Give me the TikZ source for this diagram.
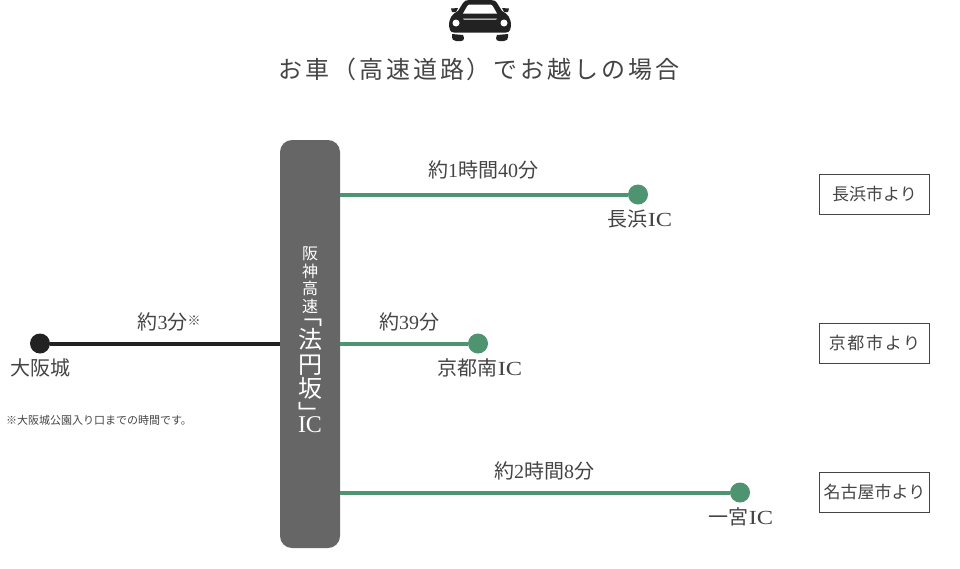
\documentclass[tikz,border=0pt]{standalone}
\usepackage{fontspec}
\setmainfont{Noto Sans CJK JP}
\newfontfamily\latfont{Liberation Serif}
\newfontfamily\icfont[FakeStretch=1.22]{Liberation Serif}
\newfontfamily\headfont[LetterSpace=12]{Noto Sans CJK JP}
\newfontfamily\boxwide[LetterSpace=10]{Noto Sans CJK JP}
\newcommand{\lat}[1]{{\latfont #1}}
\newcommand{\ic}{{\icfont IC}}
\usetikzlibrary{positioning}
\definecolor{inkgray}{HTML}{444444}
\definecolor{roadgreen}{HTML}{4F9470}
\definecolor{roadblack}{HTML}{222222}
\definecolor{capsule}{HTML}{666666}
\tikzset{
  stop/.style={circle,fill=roadgreen,minimum size=20pt,inner sep=0pt},
  lab/.style={text=inkgray,font=\fontsize{20pt}{20pt}\selectfont,inner sep=0pt},
  road/.style={line width=4pt,roadgreen},
  cityname/.style={draw=inkgray,line width=0.8pt,text=inkgray,minimum width=110pt,minimum height=40pt,inner sep=0pt,font=\fontsize{17pt}{17pt}\selectfont},
  hwytext/.style={text=white,inner sep=0pt,align=center}
}
\begin{document}
\begin{tikzpicture}[x=1pt,y=-1pt]
  \useasboundingbox (0,0) rectangle (960,568);

  % car
  \fill[roadblack] (449,26) .. controls (449,18) and (452,14) .. (458,11)
    -- (463,3) .. controls (464,1) and (466,0) .. (469,0) -- (491,0)
    .. controls (494,0) and (496,1) .. (497,3) -- (502,11)
    .. controls (508,14) and (511,18) .. (511,26) -- (510,30)
    .. controls (509,32) and (508,32.5) .. (506,32.5) -- (454,32.5)
    .. controls (452,32.5) and (451,32) .. (450,30) -- cycle;
  \fill[roadblack] (451,8.5) -- (458,8) -- (456,12) -- (452,12) -- cycle;
  \fill[roadblack] (509,8.5) -- (502,8) -- (504,12) -- (508,12) -- cycle;
  \fill[roadblack] (452,34) -- (463,35) -- (464,38) .. controls (464,40) and (463,41) .. (461,41) -- (456,41) .. controls (453,41) and (452,39) .. (452,37) -- cycle;
  \fill[roadblack] (508,34) -- (497,35) -- (496,38) .. controls (496,40) and (497,41) .. (499,41) -- (504,41) .. controls (507,41) and (508,39) .. (508,37) -- cycle;
  \fill[white] (463,13.5) -- (467,6.5) .. controls (468,5) and (468.5,4.5) .. (470,4.5) -- (490,4.5) .. controls (491.5,4.5) and (492,5) .. (493,6.5) -- (497,13.5) -- cycle;
  \fill[white] (456,23) circle (3.5) (504,23) circle (3.5);
  \fill[white] (463,18.7) -- (497,18.7) -- (496,19.7) -- (464,19.7) -- cycle;

  \node[text=inkgray,inner sep=0pt,font=\fontsize{24pt}{24pt}\headfont] (title) at (479,69) {お車（高速道路）でお越しの場合};

  % highway
  \node[fill=capsule,rounded corners=12pt,minimum width=60pt,minimum height=408pt,inner sep=0pt] (hwy) at (310,344) {};
  \node[hwytext,font=\fontsize{16pt}{17.5pt}\selectfont] (hwyname) at (310,280) {阪\\神\\高\\速};
  \node[hwytext,font=\fontsize{24pt}{24.5pt}\selectfont] (hwyic) at (310,370.5) {﹁\\法\\円\\坂\\﹂};
  \node[hwytext,font=\fontsize{24pt}{24pt}\latfont] (iclabel) at (310,425) {IC};

  % stops
  \node[stop,fill=roadblack] (osaka) at (40,343.5) {};
  \node[stop] (nagahama) at (638,194.5) {};
  \node[stop] (kyoto) at (478,343.5) {};
  \node[stop] (ichinomiya) at (740,492.5) {};

  \draw[road,roadblack] (osaka) -- (hwy.west |- osaka);
  \draw[road] (hwy.east |- nagahama) -- (nagahama);
  \draw[road] (hwy.east |- kyoto) -- (kyoto);
  \draw[road] (hwy.east |- ichinomiya) -- (ichinomiya);

  % labels
  \node[lab] (t1) at (483,170) {約\lat{1}時間\lat{40}分};
  \node[lab] (t2) at (409,322) {約\lat{39}分};
  \node[lab] (t3) at (544,471) {約\lat{2}時間\lat{8}分};
  \node[lab] (t4) at (169,322) {約\lat{3}分\raisebox{4pt}{\fontsize{13pt}{13pt}\selectfont ※}};
  \node[lab] (n1) at (640,219) {長浜\ic};
  \node[lab] (n2) at (480,368) {京都南\ic};
  \node[lab] (n3) at (741,517) {一宮\ic};
  \node[lab] (n4) at (40,368) {大阪城};
  \node[lab,font=\fontsize{11pt}{11pt}\selectfont] (note) at (99,420) {※大阪城公園入り口までの時間です。};

  % boxes
  \node[cityname] (b1) at (874.5,194.5) {長浜市より};
  \node[cityname,font=\fontsize{17pt}{17pt}\boxwide] (b2) at (874.5,343.5) {京都市より};
  \node[cityname] (b3) at (874.5,492.5) {名古屋市より};
\end{tikzpicture}
\end{document}
